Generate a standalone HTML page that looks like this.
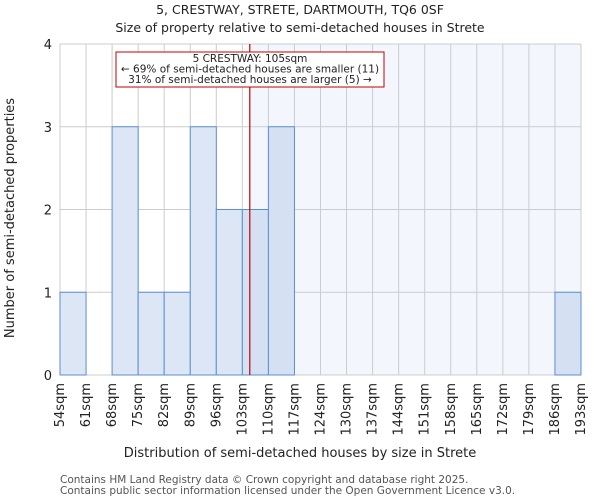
<!DOCTYPE html>
<html><head><meta charset="utf-8"><style>body{margin:0;background:#fff}svg{display:block;font-family:"DejaVu Sans","Liberation Sans",sans-serif}</style></head>
<body>
<svg id="c" width="600" height="500"></svg>
<script>
const binStarts=[54,61,68,75,82,89,96,103,110,117,124,130,137,144,151,158,165,172,179,186,193];
const tickLabels=["54sqm","61sqm","68sqm","75sqm","82sqm","89sqm","96sqm","103sqm","110sqm","117sqm","124sqm","130sqm","137sqm","144sqm","151sqm","158sqm","165sqm","172sqm","179sqm","186sqm","193sqm"];
const counts=[1,0,3,1,1,3,2,2,3,0,0,0,0,0,0,0,0,0,0,1];
const yTicks=[0,1,2,3,4];
const subjectSize=105;
const NS="http://www.w3.org/2000/svg";
const svg=document.getElementById('c');
const X0=60,X1=581,Y0=375,Y1=44;
const bw=(X1-X0)/counts.length;
function xi(i){return X0+i*bw;}
function xv(v){for(let i=0;i<binStarts.length-1;i++){if(v>=binStarts[i]&&v<=binStarts[i+1])return xi(i)+(v-binStarts[i])/(binStarts[i+1]-binStarts[i])*bw;}return X1;}
function y(v){return Y0-(v/4)*(Y0-Y1);}
function mk(t,a,txt){const e=document.createElementNS(NS,t);for(const k in a)e.setAttribute(k,a[k]);if(txt!==undefined)e.textContent=txt;svg.appendChild(e);return e;}
const sx=xv(subjectSize);
let e=mk('rect',{x:sx,y:Y1,width:X1-sx,height:Y0-Y1,fill:'#f3f6fd'});


for(let i=0;i<binStarts.length;i++){e=mk('line',{x1:xi(i),x2:xi(i),y1:Y1,y2:Y0,stroke:'#cccccc','stroke-width':1});

}
yTicks.forEach(t=>{e=mk('line',{x1:X0,x2:X1,y1:y(t),y2:y(t),stroke:'#cccccc','stroke-width':1});


e=mk('text',{x:X0-8,y:y(t)+5,'text-anchor':'end','font-size':13,fill:'#222'},t);

});
counts.forEach((c,i)=>{if(c<=0)return;const mid=(binStarts[i]+binStarts[i+1])/2;
e=mk('rect',{x:xi(i),y:y(c),width:bw,height:Y0-y(c),fill:mid>subjectSize?'#d5e0f3':'#dde6f4',stroke:'#5a8fd6','stroke-width':1});

});
e=mk('line',{x1:sx,x2:sx,y1:Y1,y2:Y0,stroke:'#c00000','stroke-width':1.2});


tickLabels.forEach((l,i)=>{const tx=xi(i)+4,ty=Y0+8;
e=mk('text',{x:tx,y:ty,transform:`rotate(-90 ${tx} ${ty})`,'text-anchor':'end','font-size':13,fill:'#222'},l);

});
e=mk('rect',{x:116,y:52,width:268,height:35,fill:'#fff',stroke:'#c00000','stroke-width':1});


[["5 CRESTWAY: 105sqm",62],["← 69% of semi-detached houses are smaller (11)",72.5],["31% of semi-detached houses are larger (5) →",83]].forEach(a=>{
e=mk('text',{x:250,y:a[1],'text-anchor':'middle','font-size':10.5,fill:'#222'},a[0]);

});
e=mk('text',{x:300,y:14,'text-anchor':'middle','font-size':12.5,fill:'#222'},"5, CRESTWAY, STRETE, DARTMOUTH, TQ6 0SF");


e=mk('text',{x:300,y:32,'text-anchor':'middle','font-size':12.5,fill:'#222'},"Size of property relative to semi-detached houses in Strete");


e=mk('text',{x:300,y:457,'text-anchor':'middle','font-size':13,fill:'#222'},"Distribution of semi-detached houses by size in Strete");


e=mk('text',{x:14,y:218,'text-anchor':'middle','font-size':13,fill:'#222',transform:'rotate(-90 14 218)'},"Number of semi-detached properties");


e=mk('text',{x:60,y:483,'font-size':10.5,fill:'#555'},"Contains HM Land Registry data © Crown copyright and database right 2025.");


e=mk('text',{x:60,y:494,'font-size':10.5,fill:'#555'},"Contains public sector information licensed under the Open Government Licence v3.0.");


</script>
</body></html>
